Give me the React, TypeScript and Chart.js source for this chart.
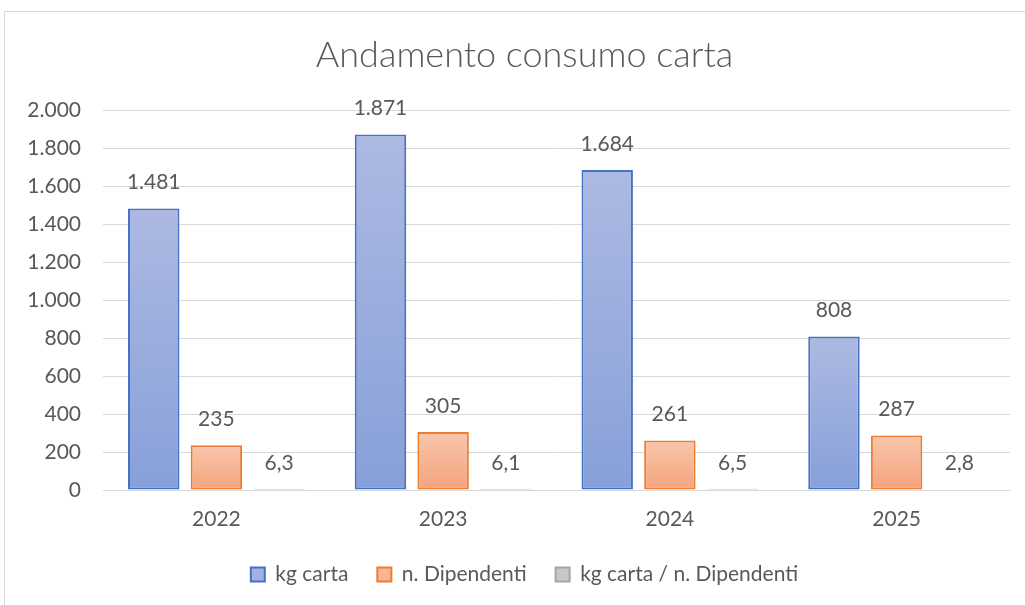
import React, { useEffect, useRef } from "react";
import { Chart, registerables } from "chart.js";

Chart.register(...registerables);

const categories = ["2022", "2023", "2024", "2025"];
const kgCarta = [1481, 1871, 1684, 808];
const nDipendenti = [235, 305, 261, 287];
const kgPerDipendente = [6.3, 6.1, 6.5, 2.8];
const seriesNames = ["kg carta", "n. Dipendenti", "kg carta / n. Dipendenti"];
const titleText = "Andamento consumo carta";
const yMax = 2000;
const yStep = 200;

const FONT = "Lato, 'Noto Sans', sans-serif";
const TEXT = "#595959";

function fmt(v: number): string {
  const neg = v < 0;
  const s = Math.abs(v).toString();
  const [intPart, dec] = s.split(".");
  const grouped = intPart.replace(/\B(?=(\d{3})+(?!\d))/g, ".");
  return (neg ? "-" : "") + grouped + (dec ? "," + dec : "");
}

function gradientFill(top: string, bottom: string) {
  return (ctx: any) => {
    const chart = ctx.chart;
    if (!chart.chartArea || ctx.type !== "data") return bottom;
    const y = chart.scales.y;
    const t = y.getPixelForValue(ctx.raw);
    const b = y.getPixelForValue(0);
    if (!isFinite(t) || !isFinite(b) || Math.abs(b - t) < 1) return bottom;
    const g = chart.ctx.createLinearGradient(0, t, 0, b);
    g.addColorStop(0, top);
    g.addColorStop(1, bottom);
    return g;
  };
}

const legendFills = ["#a2b1e0", "#f6b796", "#c8c8c8"];

const dataLabelPlugin = {
  id: "dataLabels",
  afterDatasetsDraw(chart: any) {
    const ctx = chart.ctx;
    ctx.save();
    ctx.font = `21px ${FONT}`;
    ctx.fillStyle = TEXT;
    ctx.textAlign = "center";
    ctx.textBaseline = "middle";
    chart.data.datasets.forEach((ds: any, di: number) => {
      const meta = chart.getDatasetMeta(di);
      meta.data.forEach((el: any, i: number) => {
        ctx.fillText(fmt(ds.data[i]), el.x, el.y - 26);
      });
    });
    ctx.restore();
  },
};

export default function App() {
  const ref = useRef<HTMLCanvasElement>(null);
  useEffect(() => {
    if (!ref.current) return;
    const common = {
      borderWidth: 2,
      borderSkipped: false,
      categoryPercentage: 0.829,
      barPercentage: 0.821,
    };
    const chart = new Chart(ref.current, {
      type: "bar",
      data: {
        labels: categories,
        datasets: [
          {
            label: seriesNames[0],
            data: kgCarta,
            backgroundColor: gradientFill("#adb9e2", "#87a0d9"),
            borderColor: "#4472c4",
            ...common,
          },
          {
            label: seriesNames[1],
            data: nDipendenti,
            backgroundColor: gradientFill("#f8c6ac", "#f4a37c"),
            borderColor: "#ed7d31",
            ...common,
          },
          {
            label: seriesNames[2],
            data: kgPerDipendente,
            backgroundColor: gradientFill("#d0d0d0", "#bcbcbc"),
            borderColor: "#a5a5a5",
            ...common,
          },
        ],
      } as any,
      options: {
        responsive: false,
        animation: false,
        layout: { padding: { left: 0, right: 0, top: 0, bottom: 35 } },
        plugins: {
          title: {
            display: true,
            text: titleText,
            color: TEXT,
            font: { family: FONT, size: 36, weight: "300" as any },
            padding: { top: 21.6, bottom: 33.2 },
          },
          legend: {
            position: "bottom",
            labels: {
              color: TEXT,
              font: { family: FONT, size: 21 },
              boxWidth: 14,
              boxHeight: 14,
              padding: 29,
              generateLabels(chart: any) {
                const items = Chart.defaults.plugins.legend.labels.generateLabels(chart);
                items.forEach((it: any, i: number) => {
                  it.fillStyle = legendFills[i];
                  it.lineWidth = 2;
                });
                return items;
              },
            },
          },
          tooltip: { enabled: false },
        },
        scales: {
          x: {
            grid: { display: false, drawTicks: false },
            border: { display: true, color: "#d9d9d9", width: 1 },
            ticks: { color: TEXT, font: { family: FONT, size: 21 }, padding: 17 },
            afterFit(s: any) {
              s.height = 45;
            },
          },
          y: {
            min: 0,
            max: yMax,
            grid: { color: "#d9d9d9", lineWidth: 1, drawTicks: false },
            border: { display: false },
            ticks: {
              stepSize: yStep,
              color: TEXT,
              font: { family: FONT, size: 21 },
              padding: 22,
              callback: (v: any) => fmt(Number(v)),
            },
            afterFit(s: any) {
              s.width = 98;
            },
          },
          yR: {
            position: "right",
            display: true,
            grid: { display: false, drawTicks: false },
            border: { display: false },
            ticks: { display: false },
            afterFit(s: any) {
              s.width = 34;
            },
          },
        },
      } as any,
      plugins: [dataLabelPlugin],
    });
    return () => chart.destroy();
  }, []);

  return (
    <div
      style={{
        position: "fixed",
        left: 0,
        top: 0,
        width: 1025,
        height: 605,
        overflow: "hidden",
        background: "#ffffff",
      }}
    >
      <div
        style={{
          position: "absolute",
          left: 4,
          top: 11,
          width: 1041,
          height: 620,
          border: "1px solid #d9d9d9",
          boxSizing: "border-box",
          background: "#ffffff",
        }}
      >
        <canvas ref={ref} width={1039} height={618} style={{ display: "block" }} />
      </div>
    </div>
  );
}
